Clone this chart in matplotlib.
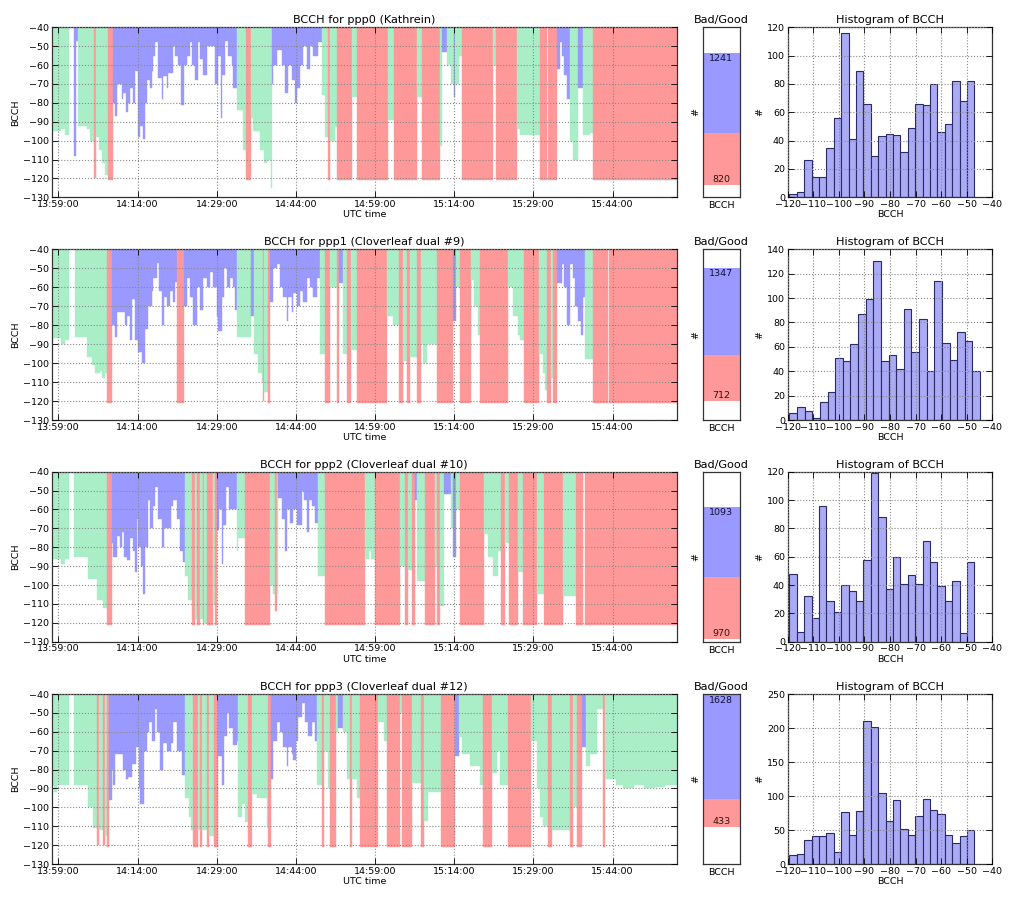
import numpy as np
import matplotlib
matplotlib.use("Agg")
import matplotlib.pyplot as plt
from matplotlib.ticker import FuncFormatter, MultipleLocator

# ---------------------------------------------------------------- data
titles = ["BCCH for ppp0 (Kathrein)",
          "BCCH for ppp1 (Cloverleaf dual #9)",
          "BCCH for ppp2 (Cloverleaf dual #10)",
          "BCCH for ppp3 (Cloverleaf dual #12)"]

# time axis: minutes after 13:59:00
T_START, T_END = -1.26, 117.13

# each entry: (segment start in minutes, BCCH level, class g=green b=blue r=red)
ts0 = [(-1.26, -95, 'g'), (0.5, -94, 'g'), (1.2, -97, 'g'), (2.02, -40, 'g'),
       (2.97, -108, 'b'), (3.35, -47, 'b'), (3.66, -92, 'g'), (5.5, -94, 'g'),
       (6.0, -100, 'g'), (6.76, -120, 'r'), (7.1, -98, 'g'), (7.7, -105, 'g'),
       (8.2, -112, 'g'), (8.8, -118, 'g'), (9.34, -121, 'r'),
       (10.29, -80, 'b'), (10.73, -87, 'b'), (11.05, -70, 'b'), (12.0, -78, 'b'),
       (12.31, -75, 'b'), (12.82, -85, 'b'), (13.26, -80, 'b'), (13.57, -72, 'b'),
       (14.2, -80, 'b'), (14.52, -63, 'b'), (15.15, -98, 'b'), (15.47, -92, 'b'),
       (15.97, -99, 'b'), (16.41, -80, 'b'), (16.73, -68, 'b'), (17.36, -72, 'b'),
       (17.68, -63, 'b'), (17.99, -55, 'b'), (18.31, -48, 'b'), (18.94, -67, 'b'),
       (19.57, -78, 'b'), (19.89, -66, 'b'), (20.52, -72, 'b'), (20.83, -64, 'b'),
       (21.78, -50, 'b'), (22.1, -55, 'b'), (22.73, -60, 'b'), (23.17, -81, 'b'),
       (23.8, -60, 'b'), (24.31, -55, 'b'), (24.94, -48, 'b'), (25.25, -60, 'b'),
       (25.88, -68, 'b'), (26.52, -48, 'b'), (26.83, -57, 'b'), (27.46, -65, 'b'),
       (28.09, -50, 'b'), (29.67, -70, 'b'), (30.3, -55, 'b'), (30.74, -88, 'b'),
       (31.06, -65, 'b'), (31.57, -47, 'b'), (32.2, -55, 'b'), (32.83, -60, 'b'),
       (33.14, -72, 'b'), (33.78, -84, 'g'), (35.04, -105, 'g'), (35.48, -121, 'r'),
       (36.43, -88, 'g'), (36.93, -95, 'g'), (38.19, -105, 'g'), (39.0, -112, 'g'),
       (39.46, -110, 'g'), (40.21, -125, 'g'),
       (40.4, -70, 'b'), (40.72, -60, 'b'), (41.35, -52, 'b'), (42.3, -60, 'b'),
       (42.93, -75, 'b'), (43.56, -60, 'b'), (44.19, -68, 'b'), (44.82, -80, 'b'),
       (45.14, -72, 'b'), (45.77, -60, 'b'), (46.4, -50, 'b'), (47.03, -62, 'b'),
       (47.66, -50, 'b'), (48.3, -55, 'b'), (49.24, -48, 'b'),
       (49.87, -76, 'g'), (50.51, -98, 'g'), (51.14, -121, 'r'), (51.45, -100, 'g'),
       (52.4, -93, 'g'), (52.84, -121, 'r'), (55.71, -77, 'g'), (56.53, -121, 'r'),
       (62.53, -89, 'g'), (63.6, -121, 'r'), (68.02, -77, 'g'), (68.84, -121, 'r'),
       (72.31, -103, 'g'), (72.63, -53, 'b'), (73.57, -60, 'g'), (74.3, -70, 'g'),
       (75.03, -77, 'b'), (75.15, -70, 'g'), (75.8, -55, 'g'), (76.41, -121, 'r'),
       (82.41, -60, 'g'), (82.92, -121, 'r'), (86.96, -94, 'g'), (87.46, -97, 'g'),
       (91.25, -121, 'r'), (92.51, -40, 'g'), (92.83, -121, 'r'),
       (94.41, -62, 'b'), (95.04, -48, 'b'), (95.35, -55, 'b'), (95.8, -65, 'b'),
       (96.3, -78, 'b'), (96.93, -100, 'g'), (97.56, -110, 'g'), (98.51, -72, 'b'),
       (99.46, -97, 'g'), (100.72, -96, 'g'), (101.35, -121, 'r')]

ts1 = [(-1.26, -87, 'g'), (0.5, -90, 'g'), (1.2, -88, 'g'), (2.02, -40, 'g'),
       (3.16, -86, 'g'), (5.37, -97, 'g'), (6.31, -101, 'g'), (7.0, -105, 'g'),
       (7.89, -104, 'g'), (8.21, -108, 'g'), (8.84, -105, 'g'), (9.28, -121, 'r'),
       (10.1, -80, 'b'), (10.73, -86, 'b'), (11.05, -73, 'b'), (12.63, -80, 'b'),
       (12.94, -75, 'b'), (13.57, -88, 'b'), (13.89, -66, 'b'), (14.52, -88, 'b'),
       (15.15, -94, 'b'), (15.78, -100, 'b'), (16.41, -82, 'b'), (17.05, -70, 'b'),
       (17.68, -62, 'b'), (17.99, -55, 'b'), (18.62, -47, 'b'), (19.13, -62, 'b'),
       (19.57, -80, 'b'), (20.01, -65, 'b'), (20.52, -70, 'b'), (21.15, -62, 'b'),
       (21.65, -68, 'b'), (22.1, -57, 'b'), (22.54, -121, 'r'),
       (23.8, -70, 'b'), (24.31, -55, 'b'), (24.94, -65, 'b'), (25.57, -80, 'b'),
       (26.2, -60, 'b'), (26.83, -72, 'b'), (27.34, -55, 'b'), (28.09, -60, 'b'),
       (28.72, -52, 'b'), (29.36, -60, 'b'), (29.99, -75, 'b'), (30.3, -83, 'b'),
       (30.93, -65, 'b'), (31.38, -50, 'b'), (31.88, -60, 'b'), (32.51, -55, 'b'),
       (33.14, -60, 'b'), (33.46, -72, 'b'), (33.78, -86, 'g'), (36.43, -75, 'b'),
       (37.12, -95, 'g'), (37.88, -105, 'g'), (38.5, -110, 'g'), (38.83, -120, 'r'),
       (39.02, -115, 'g'), (39.65, -121, 'r'),
       (40.09, -68, 'b'), (40.72, -50, 'b'), (41.35, -48, 'b'), (41.98, -60, 'b'),
       (42.61, -65, 'b'), (43.24, -78, 'b'), (43.56, -65, 'b'), (44.19, -73, 'b'),
       (44.51, -63, 'b'), (45.14, -70, 'b'), (45.77, -62, 'b'), (46.4, -68, 'b'),
       (47.03, -55, 'b'), (47.66, -60, 'b'), (48.3, -65, 'b'), (48.93, -55, 'b'),
       (49.56, -95, 'g'), (50.51, -121, 'r'), (51.45, -60, 'g'), (52.84, -121, 'r'),
       (53.22, -58, 'b'), (54.0, -95, 'g'), (54.63, -121, 'r'), (55.45, -93, 'g'),
       (56.53, -121, 'r'), (62.21, -75, 'g'), (63.47, -80, 'g'), (64.48, -121, 'r'),
       (65.24, -99, 'g'), (66.0, -121, 'r'), (66.63, -97, 'g'), (67.89, -121, 'r'),
       (68.65, -90, 'g'), (69.15, -100, 'g'), (69.79, -90, 'g'), (71.81, -121, 'r'),
       (74.71, -78, 'b'), (75.34, -60, 'g'), (76.1, -121, 'r'), (78.12, -56, 'g'),
       (78.8, -70, 'g'), (79.4, -85, 'g'), (79.89, -121, 'r'), (85.25, -60, 'g'),
       (86.2, -75, 'g'), (87.0, -85, 'g'), (87.46, -88, 'g'), (88.28, -121, 'r'),
       (91.06, -95, 'g'), (91.8, -105, 'g'), (92.2, -114, 'g'), (92.64, -121, 'r'),
       (93.27, -108, 'g'), (93.78, -121, 'r'),
       (94.41, -58, 'b'), (95.35, -48, 'b'), (95.8, -60, 'b'), (96.3, -80, 'b'),
       (96.93, -48, 'b'), (97.44, -55, 'b'), (97.88, -70, 'b'), (98.51, -78, 'b'),
       (98.95, -85, 'b'), (99.46, -65, 'b'), (99.77, -98, 'g'), (101.35, -121, 'r'),
       (104.07, -40, 'g'), (104.38, -121, 'r')]

ts2 = [(-1.26, -86, 'g'), (0.5, -89, 'g'), (1.2, -86, 'g'), (2.02, -40, 'g'),
       (2.97, -85, 'g'), (5.6, -97, 'g'), (7.26, -108, 'g'), (8.52, -112, 'g'),
       (9.28, -121, 'r'),
       (10.1, -78, 'b'), (10.42, -85, 'b'), (11.05, -74, 'b'), (11.68, -80, 'b'),
       (12.0, -72, 'b'), (12.44, -85, 'b'), (12.94, -87, 'b'), (13.57, -75, 'b'),
       (14.07, -82, 'b'), (14.52, -93, 'b'), (14.83, -65, 'b'), (15.15, -80, 'b'),
       (15.6, -90, 'b'), (16.1, -105, 'b'), (16.41, -80, 'b'), (17.05, -55, 'b'),
       (17.36, -70, 'b'), (17.99, -58, 'b'), (18.31, -48, 'b'), (18.94, -65, 'b'),
       (19.57, -80, 'b'), (20.01, -70, 'b'), (21.27, -58, 'b'), (21.78, -55, 'b'),
       (22.41, -65, 'b'), (23.04, -82, 'b'), (23.68, -88, 'b'),
       (24.0, -95, 'g'), (24.6, -108, 'g'), (25.25, -121, 'r'), (25.9, -118, 'g'),
       (26.3, -121, 'r'), (26.83, -118, 'g'), (27.34, -121, 'r'), (27.6, -120, 'g'),
       (28.09, -121, 'r'), (29.36, -110, 'g'), (29.67, -121, 'r'),
       (29.99, -71, 'b'), (30.43, -60, 'b'), (30.93, -89, 'b'), (31.25, -68, 'b'),
       (31.75, -48, 'b'), (32.39, -60, 'b'), (33.78, -82, 'g'), (34.1, -75, 'g'),
       (35.35, -121, 'r'), (40.09, -100, 'g'), (40.72, -105, 'g'), (41.04, -114, 'r'),
       (41.35, -105, 'g'),
       (41.67, -54, 'b'), (42.3, -65, 'b'), (42.93, -82, 'b'), (43.4, -60, 'b'),
       (43.87, -67, 'b'), (44.51, -60, 'b'), (45.14, -68, 'b'), (46.08, -50, 'b'),
       (46.53, -55, 'b'), (47.03, -72, 'b'), (47.54, -55, 'b'), (47.98, -58, 'b'),
       (48.62, -67, 'b'), (49.24, -95, 'g'), (50.51, -121, 'r'),
       (58.1, -86, 'g'), (58.75, -82, 'g'), (59.3, -86, 'g'), (60.0, -121, 'r'),
       (64.73, -90, 'g'), (65.68, -121, 'r'), (66.3, -92, 'g'), (66.94, -121, 'r'),
       (67.57, -55, 'b'), (68.02, -98, 'g'), (69.47, -121, 'r'), (71.37, -90, 'g'),
       (71.81, -121, 'r'), (72.31, -111, 'g'), (73.06, -52, 'b'), (74.33, -70, 'g'),
       (74.84, -85, 'b'), (75.34, -60, 'g'), (76.1, -121, 'r'),
       (80.65, -73, 'g'), (81.47, -85, 'g'), (82.3, -95, 'g'), (83.25, -82, 'g'),
       (83.88, -121, 'r'), (84.64, -78, 'g'), (85.45, -121, 'r'), (87.15, -93, 'g'),
       (87.96, -121, 'r'), (90.75, -105, 'g'), (91.96, -121, 'r'), (95.6, -106, 'g'),
       (98.13, -121, 'r'), (99.4, -40, 'g'), (99.84, -121, 'r')]

ts3 = [(-1.26, -88, 'g'), (-0.9, -92, 'g'), (-0.3, -88, 'g'), (2.02, -40, 'g'),
       (2.97, -88, 'g'), (5.6, -100, 'g'), (6.6, -111, 'g'), (7.26, -120, 'r'),
       (7.64, -112, 'g'), (8.52, -120, 'r'), (8.9, -115, 'g'), (9.28, -121, 'r'),
       (9.66, -96, 'b'), (10.1, -80, 'b'), (10.42, -88, 'b'), (10.73, -72, 'b'),
       (12.31, -80, 'b'), (12.76, -85, 'b'), (13.26, -84, 'b'), (14.0, -77, 'b'),
       (14.77, -68, 'b'), (15.34, -90, 'b'), (15.47, -98, 'b'), (16.22, -70, 'b'),
       (16.73, -60, 'b'), (17.24, -55, 'b'), (17.68, -65, 'b'), (18.31, -48, 'b'),
       (18.75, -60, 'b'), (19.25, -80, 'b'), (19.76, -66, 'b'), (20.52, -70, 'b'),
       (21.27, -66, 'b'), (21.78, -55, 'b'), (22.41, -70, 'b'), (23.36, -83, 'b'),
       (24.0, -95, 'g'), (24.8, -105, 'g'), (25.2, -112, 'g'), (25.57, -121, 'r'),
       (26.52, -112, 'g'), (26.83, -121, 'r'), (27.2, -112, 'g'), (28.09, -121, 'r'),
       (28.6, -115, 'g'), (29.48, -121, 'r'),
       (30.3, -73, 'b'), (30.93, -88, 'b'), (31.38, -62, 'b'), (31.88, -50, 'b'),
       (32.39, -58, 'b'), (33.14, -67, 'b'), (33.78, -65, 'b'), (34.1, -105, 'g'),
       (34.72, -98, 'g'), (35.35, -108, 'g'), (36.0, -121, 'r'), (36.62, -93, 'g'),
       (37.6, -95, 'g'), (39.46, -110, 'g'), (39.77, -121, 'r'),
       (40.21, -85, 'b'), (40.72, -65, 'b'), (41.35, -55, 'b'), (41.98, -60, 'b'),
       (42.61, -68, 'b'), (43.24, -78, 'b'), (43.56, -68, 'b'), (44.19, -72, 'b'),
       (44.51, -75, 'b'), (45.0, -65, 'b'), (45.45, -52, 'b'), (46.08, -45, 'b'),
       (46.71, -55, 'b'), (47.35, -62, 'b'), (47.98, -55, 'b'), (48.62, -65, 'b'),
       (48.93, -88, 'g'), (49.87, -121, 'r'), (50.32, -70, 'g'), (51.0, -90, 'g'),
       (51.45, -121, 'r'), (52.59, -60, 'g'), (53.03, -58, 'b'), (54.0, -60, 'g'),
       (54.6, -85, 'g'), (55.26, -121, 'r'), (55.58, -85, 'g'), (56.5, -95, 'g'),
       (57.16, -121, 'r'), (60.63, -55, 'g'), (61.6, -65, 'g'), (62.34, -121, 'r'),
       (64.73, -50, 'g'), (65.05, -121, 'r'), (66.94, -87, 'g'), (68.65, -121, 'r'),
       (69.28, -107, 'g'), (70.1, -92, 'g'), (72.44, -121, 'r'), (75.15, -73, 'b'),
       (75.97, -63, 'g'), (76.4, -72, 'g'), (77.99, -78, 'g'), (79.89, -88, 'g'),
       (80.4, -121, 'r'), (82.1, -82, 'g'), (83.05, -70, 'g'), (83.7, -88, 'g'),
       (85.25, -121, 'r'), (89.55, -65, 'g'), (90.6, -90, 'g'), (91.2, -105, 'g'),
       (91.88, -110, 'g'), (92.83, -121, 'r'), (93.47, -112, 'g'), (96.93, -121, 'r'),
       (97.56, -100, 'g'), (98.32, -121, 'r'), (99.15, -68, 'b'), (99.97, -78, 'g'),
       (100.72, -72, 'g'), (101.98, -48, 'g'), (103.24, -121, 'r'), (103.6, -85, 'g'),
       (105.7, -88, 'g'), (107.0, -90, 'g'), (109.0, -88, 'g'), (111.0, -90, 'g'),
       (113.0, -89, 'g'), (115.0, -88, 'g')]

series = [ts0, ts1, ts2, ts3]

# bad / good sample counts
good = [1241, 1347, 1093, 1628]
bad = [820, 712, 970, 433]

# histogram counts of the good samples (25 bins each)
hist0 = [2, 4, 26, 14, 14, 35, 56, 116, 41, 89, 66, 29, 43, 45, 44, 32, 49, 66,
         65, 80, 46, 52, 82, 68, 82]
hist1 = [6, 11, 7, 2, 15, 23, 51, 48, 62, 87, 99, 130, 48, 53, 42, 91, 56, 83,
         40, 114, 63, 49, 72, 65, 40]
hist2 = [48, 7, 32, 17, 96, 29, 21, 40, 36, 29, 58, 119, 88, 37, 60, 41, 47, 41,
         71, 56, 39, 29, 43, 6, 56]
hist3 = [13, 14, 35, 41, 41, 46, 18, 77, 43, 78, 210, 201, 104, 63, 94, 51, 42,
         71, 95, 79, 73, 42, 31, 41, 50]
hists = [hist0, hist1, hist2, hist3]
hist_lo = [-119.3, -119.3, -119.3, -119.3]
hist_hi = [-47.0, -44.8, -47.0, -47.0]
hist_ymax = [120, 140, 120, 250]
hist_step = [20, 20, 20, 50]

# ---------------------------------------------------------------- style
colors = {'g': '#aaeec8', 'b': '#9999ff', 'r': '#ff9999'}
fs_tick = 6.8
fs_title = 8.1
W, H = 1023.0, 910.0

plt.rc('font', family='DejaVu Sans', size=fs_tick)
plt.rc('axes', linewidth=0.9, edgecolor='#333333')


def style_axis(ax):
    ax.tick_params(axis='both', which='both', direction='in', top=True, right=True,
                   labelsize=fs_tick, length=4, width=0.6, pad=2)
    ax.grid(True, linestyle=':', color='#888888', linewidth=0.8)
    ax.set_axisbelow(False)


def clock(m, pos=None):
    total = int(round((13 * 60 + 59 + m) * 60))
    return "%02d:%02d:%02d" % (total // 3600, (total // 60) % 60, total % 60)


fig = plt.figure(figsize=(10.23, 9.10), dpi=100)

rows_px = [(27.3, 197.3), (249.3, 420.0), (471.7, 641.7), (694.0, 864.0)]

for i in range(4):
    top, bot = rows_px[i]
    b = 1 - bot / H
    h = (bot - top) / H

    # ---- time series
    ax = fig.add_axes([51.7 / W, b, 625.0 / W, h])
    t = np.array([s[0] for s in series[i]] + [T_END])
    v = np.array([s[1] for s in series[i]], dtype=float)
    c = [colors[s[2]] for s in series[i]]
    ax.bar(t[:-1], -40 - v, bottom=v, width=np.diff(t), align='edge',
           color=c, edgecolor=c, linewidth=0.3)
    ax.set_xlim(T_START, T_END)
    ax.set_ylim(-130, -40)
    ax.yaxis.set_major_locator(MultipleLocator(10))
    ax.set_xticks(np.arange(0, 106, 15))
    ax.xaxis.set_major_formatter(FuncFormatter(clock))
    style_axis(ax)
    ax.set_title(titles[i], fontsize=fs_title, pad=3)
    ax.set_xlabel("UTC time", fontsize=fs_tick, labelpad=1)
    ax.set_ylabel("BCCH", fontsize=fs_tick, labelpad=2)

    # ---- bad / good
    axb = fig.add_axes([702.7 / W, b, 37.3 / W, h])
    axb.bar(0, good[i], width=1, color=colors['b'], linewidth=0)
    axb.bar(0, -bad[i], width=1, color=colors['r'], linewidth=0)
    axb.set_xlim(-0.5, 0.5)
    axb.set_ylim(-1010, 1640)
    axb.text(0, good[i] - 15, str(good[i]), ha='center', va='top',
             fontsize=fs_tick, color='#111133')
    axb.text(0, -bad[i] + 10, str(bad[i]), ha='center', va='bottom',
             fontsize=fs_tick, color='#331111')
    axb.set_xticks([0])
    axb.set_xticklabels(["BCCH"])
    axb.set_yticks([])
    axb.tick_params(axis='x', length=0, labelsize=fs_tick, pad=3)
    axb.set_ylabel("#", fontsize=fs_tick, labelpad=2)
    axb.set_title("Bad/Good", fontsize=fs_title, pad=3)

    # ---- histogram
    axh = fig.add_axes([787.7 / W, b, 204.7 / W, h])
    edges = np.linspace(hist_lo[i], hist_hi[i], len(hists[i]) + 1)
    axh.bar(edges[:-1], hists[i], width=np.diff(edges), align='edge',
            color='#aaaaf5', edgecolor='#2a2a66', linewidth=0.8)
    axh.set_xlim(-120, -40)
    axh.set_ylim(0, hist_ymax[i])
    axh.xaxis.set_major_locator(MultipleLocator(10))
    axh.yaxis.set_major_locator(MultipleLocator(hist_step[i]))
    style_axis(axh)
    axh.set_title("Histogram of BCCH", fontsize=fs_title, pad=3)
    axh.set_xlabel("BCCH", fontsize=fs_tick, labelpad=1)
    axh.set_ylabel("#", fontsize=fs_tick, labelpad=2)

fig.savefig("out.png", dpi=100, facecolor='white')
